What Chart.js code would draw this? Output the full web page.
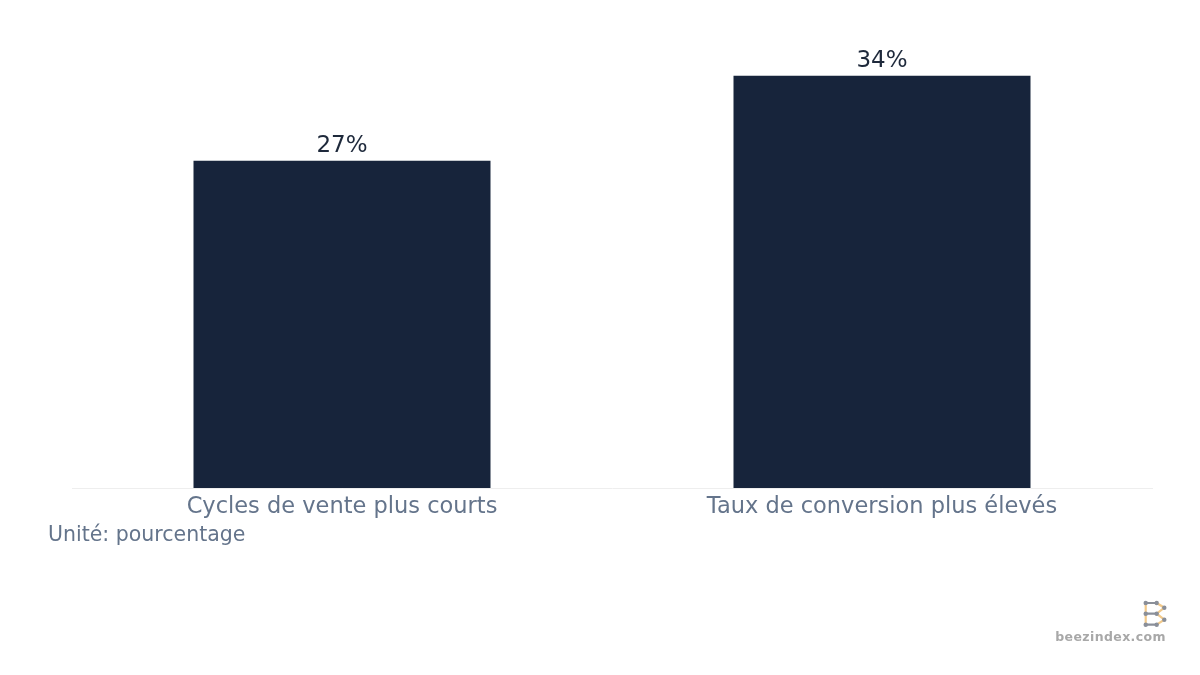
<!DOCTYPE html>
<html>
<head>
<meta charset="utf-8">
<script src="https://cdn.jsdelivr.net/npm/chart.js@4/dist/chart.umd.min.js"></script>
<style>
    html, body { margin: 0; padding: 0; background: #ffffff; }
    #wrap { position: relative; width: 1200px; height: 675px; font-family: "DejaVu Sans", sans-serif; }
    #unit { position: absolute; left: 48px; top: 522px; font-size: 20.5px; color: #64748b; }
    #logo { position: absolute; left: 1142px; top: 600px; }
    #site { position: absolute; left: 1040px; top: 629px; width: 126px; text-align: right; font-size: 12.5px; font-weight: bold; color: #a8a8a8; letter-spacing: 0.4px; }
</style>
</head>
<body>
<div id="wrap">
    <canvas id="chart"></canvas>
    <div id="unit">Unité: pourcentage</div>
    <svg id="logo" width="26" height="28" viewBox="0 0 26 28">
        <path d="M3.7 3 V24.7 M14.7 3 L22.3 7.7 L14.7 13.7 L22.3 19.7 L14.7 24.7" fill="none" stroke="#f2c98a" stroke-width="2.2"/>
        <path d="M3.7 3 H14.7 M3.7 13.7 H14.7 M3.7 24.7 H14.7" fill="none" stroke="#8a8f99" stroke-width="2.2"/>
        <g fill="#8a8f99">
            <circle cx="3.7" cy="3" r="2.2"/><circle cx="14.7" cy="3" r="2.2"/><circle cx="22.3" cy="7.7" r="2.2"/>
            <circle cx="3.7" cy="13.7" r="2.2"/><circle cx="14.7" cy="13.7" r="2.2"/><circle cx="22.3" cy="19.7" r="2.2"/>
            <circle cx="3.7" cy="24.7" r="2.2"/><circle cx="14.7" cy="24.7" r="2.2"/>
        </g>
    </svg>
    <div id="site">beezindex.com</div>
</div>
<script>
    const categories = ['Cycles de vente plus courts', 'Taux de conversion plus élevés'];
    const values = [27, 34];
    const valueLabels = ['27%', '34%'];

    // Écrit la valeur au-dessus de chaque barre
    const barLabels = {
        id: 'barLabels',
        afterDatasetsDraw(chart) {
            const ctx = chart.ctx;
            const meta = chart.getDatasetMeta(0);
            ctx.save();
            ctx.font = '23px "DejaVu Sans"';
            ctx.fillStyle = '#1e293b';
            ctx.textAlign = 'center';
            ctx.textBaseline = 'alphabetic';
            meta.data.forEach((bar, i) => {
                ctx.fillText(valueLabels[i], bar.x, bar.y - 9);
            });
            ctx.restore();
        }
    };

    new Chart(document.getElementById('chart'), {
        type: 'bar',
        data: {
            labels: categories,
            datasets: [{
                data: values,
                backgroundColor: '#17243b',
                borderWidth: 0,
                barPercentage: 0.55,
                categoryPercentage: 1
            }]
        },
        options: {
            responsive: true,
            maintainAspectRatio: false,
            animation: false,
            plugins: {
                legend: { display: false },
                tooltip: { enabled: false }
            },
            layout: { padding: { left: 72, right: 48, top: 3, bottom: 156 } },
            scales: {
                x: {
                    grid: { display: false },
                    border: { display: true, color: '#eeeeee', width: 1 },
                    ticks: {
                        color: '#64748b',
                        padding: -2,
                        font: { family: 'DejaVu Sans', size: 22.5 }
                    }
                },
                y: {
                    display: false,
                    min: 0,
                    max: 40
                }
            }
        },
        plugins: [barLabels]
    });
</script>
</body>
</html>
